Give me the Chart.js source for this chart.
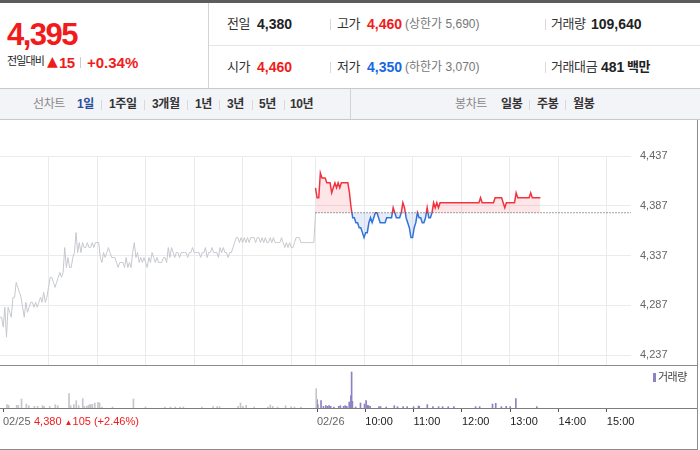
<!DOCTYPE html>
<html lang="ko">
<head>
<meta charset="UTF-8">
<title>주가 차트 - 1일</title>
<script src="https://cdn.jsdelivr.net/npm/chart.js"></script>
<style>
  body { margin:0; width:700px; height:450px; overflow:hidden; background:#fff; position:relative;
         font-family:'Liberation Sans', 'Noto Sans CJK KR', sans-serif; color:#333; }
  .t { position:absolute; white-space:nowrap; line-height:1; }
  .line { position:absolute; }
  .lbl { font-size:13px; color:#333; letter-spacing:-0.4px; }
  .num { font-size:14px; font-weight:bold; color:#222; }
  .sub { font-size:12px; color:#777; }
  .up { color:#f21b1b; }
  .down { color:#1867e6; }
  .tab { font-size:12px; font-weight:bold; color:#333; letter-spacing:-0.4px; }
  .tabOff { font-size:12px; color:#888; letter-spacing:-0.4px; }
  .sep { position:absolute; width:1px; background:#d9d9d9; }
  canvas { position:absolute; left:0; }
</style>
</head>
<body>

<!-- header -->
<div class="line" style="left:0;top:0;width:700px;height:3px;background:#5c5c5c"></div>
<div class="line" style="left:208px;top:3px;width:1px;height:85px;background:#d3d3d3"></div>
<div class="line" style="left:209px;top:45px;width:491px;height:1px;background:#e6e6e6"></div>
<div class="line" style="left:0;top:88px;width:700px;height:1px;background:#c8c8c8"></div>

<span class="t up" style="left:7px;top:19px;font-size:31px;font-weight:bold;letter-spacing:-1.5px">4,395</span>
<span class="t" style="left:7px;top:56px;font-size:11px;color:#222;letter-spacing:-0.9px">전일대비</span>
<span class="t up" style="left:47px;top:54px;font-size:14px;font-family:'DejaVu Sans'">▲</span>
<span class="t up" style="left:59px;top:55px;font-size:15px;font-weight:bold;letter-spacing:-0.5px">15</span>
<div class="sep" style="left:80px;top:57px;height:11px;background:#ccc"></div>
<span class="t up" style="left:87px;top:55px;font-size:15px;font-weight:bold">+0.34%</span>

<span class="t lbl" style="left:227px;top:17px">전일</span>
<span class="t num" style="left:257px;top:17px">4,380</span>
<div class="sep" style="left:330px;top:19px;height:11px"></div>
<span class="t lbl" style="left:337px;top:17px">고가</span>
<span class="t num up" style="left:367px;top:17px">4,460</span>
<span class="t sub" style="left:405px;top:18px">(상한가 5,690)</span>
<div class="sep" style="left:545px;top:19px;height:11px"></div>
<span class="t lbl" style="left:551px;top:17px">거래량</span>
<span class="t num" style="left:591px;top:17px">109,640</span>

<span class="t lbl" style="left:227px;top:60px">시가</span>
<span class="t num up" style="left:257px;top:60px">4,460</span>
<div class="sep" style="left:330px;top:62px;height:11px"></div>
<span class="t lbl" style="left:337px;top:60px">저가</span>
<span class="t num down" style="left:367px;top:60px">4,350</span>
<span class="t sub" style="left:405px;top:61px">(하한가 3,070)</span>
<div class="sep" style="left:545px;top:62px;height:11px"></div>
<span class="t lbl" style="left:551px;top:60px">거래대금</span>
<span class="t num" style="left:601px;top:60px">481</span>
<span class="t num" style="left:627px;top:60px;font-size:13px;letter-spacing:-0.5px">백만</span>

<!-- period tabs -->
<div class="line" style="left:0;top:89px;width:700px;height:30px;background:#f3f4f7"></div>
<div class="line" style="left:0;top:119px;width:700px;height:1px;background:#c8c8c8"></div>
<div class="line" style="left:350px;top:89px;width:1px;height:30px;background:#d3d3d3"></div>
<span class="t tabOff" style="left:33px;top:98px">선차트</span>
<span class="t tab" style="left:77px;top:98px;color:#2c4c9c">1일</span>
<div class="sep" style="left:101px;top:100px;height:10px"></div>
<span class="t tab" style="left:109px;top:98px">1주일</span>
<div class="sep" style="left:144px;top:100px;height:10px"></div>
<span class="t tab" style="left:152px;top:98px">3개월</span>
<div class="sep" style="left:187px;top:100px;height:10px"></div>
<span class="t tab" style="left:195px;top:98px">1년</span>
<div class="sep" style="left:219px;top:100px;height:10px"></div>
<span class="t tab" style="left:227px;top:98px">3년</span>
<div class="sep" style="left:252px;top:100px;height:10px"></div>
<span class="t tab" style="left:259px;top:98px">5년</span>
<div class="sep" style="left:284px;top:100px;height:10px"></div>
<span class="t tab" style="left:290px;top:98px">10년</span>
<span class="t tabOff" style="left:455px;top:98px">봉차트</span>
<span class="t tab" style="left:501px;top:98px">일봉</span>
<div class="sep" style="left:529px;top:100px;height:10px"></div>
<span class="t tab" style="left:537px;top:98px">주봉</span>
<div class="sep" style="left:565px;top:100px;height:10px"></div>
<span class="t tab" style="left:573px;top:98px">월봉</span>

<!-- charts -->
<canvas id="priceChart" width="697" height="245" style="top:120px"></canvas>
<canvas id="volChart" width="697" height="83" style="top:366px"></canvas>
<div class="line" style="left:0;top:365px;width:697px;height:1px;background:#8c8c8c"></div>
<div class="line" style="left:0;top:408px;width:697px;height:1px;background:#7d7d7d"></div>
<div class="line" style="left:0;top:449px;width:698px;height:1px;background:#8c8c8c"></div>
<div class="line" style="left:697px;top:120px;width:1px;height:330px;background:#8c8c8c"></div>

<div class="line" style="left:653px;top:373px;width:3px;height:9px;background:#9080c4"></div>
<span class="t" style="left:658px;top:372px;font-size:11px;color:#444;letter-spacing:-0.5px">거래량</span>
<span class="t up" style="left:34px;top:416px;font-size:11px">4,380 <span style="font-size:8px">▲</span>105 (+2.46%)</span>

<script>
    // x axis = minutes from 09:00 of the previous day; second session starts at 390
    const SESSION = 390;
    const STEP = 2;
    const prevClose = 4380;

    // 02/25, every 2 minutes from 09:00
    const prevDayPrices = [
        4275,4275,4265,4285,4255,4285,4280,4275,4295,4295,
        4310,4305,4300,4295,4285,4275,4290,4280,4285,4290,
        4290,4285,4290,4285,4290,4295,4290,4300,4290,4295,
        4305,4315,4315,4310,4305,4310,4315,4320,4315,4320,
        4345,4325,4335,4325,4325,4335,4340,4360,4340,4350,
        4340,4350,4345,4345,4350,4345,4345,4350,4345,4350,
        4350,4350,4335,4330,4340,4335,4340,4345,4340,4335,
        4335,4335,4330,4325,4330,4330,4330,4325,4335,4325,
        4330,4325,4340,4350,4335,4340,4330,4335,4330,4335,
        4330,4325,4335,4330,4340,4335,4330,4335,4330,
        4330,4330,4335,4335,4330,4345,4335,4345,4340,4335,
        4340,4340,4335,4340,4340,4340,4340,4335,4340,4340,
        4345,4340,4340,4340,4340,4335,4340,4340,4345,4335,
        4340,4340,4345,4340,4340,4340,4335,4345,4340,4345,
        4340,4340,4335,4340,4340,4345,4350,4355,4355,4350,
        4355,4350,4355,4350,4355,4350,4355,4355,4355,4350,
        4355,4355,4350,4355,4350,4355,4350,4350,4355,4350,
        4355,4350,4350,4350,4350,4355,4350,4345,4350,4345,
        4350,4345,4345,4350,4355,4355,4355,4350,4350,4350,
        4350,4350,4350,4350,4350,4350
    ];

    // 02/26, every 2 minutes from 09:00
    const todayPrices = [
        4405,4395,4395,4420,4415,4415,4415,4410,4410,4410,
        4400,4405,4410,4405,4410,4405,4410,4410,4410,4410,
        4410,4400,4385,4375,4375,4370,4370,4365,4365,4360,
        4355,4360,4360,4370,4375,4370,4375,4380,4380,4375,
        4370,4370,4370,4370,4375,4375,4375,4375,4385,4380,
        4375,4375,4375,4380,4390,4385,4375,4370,4365,4355,
        4355,4365,4370,4380,4375,4375,4370,4370,4375,4385,
        4375,4375,4380,4390,4385,4390,4385,4390,4390,4390,
        4390,4390,4390,4390,4390,4390,4390,4390,4390,4390,
        4390,4390,4390,4390,4390,4390,4390,4390,4390,4390,
        4390,4390,4395,4390,4390,4390,4390,4390,4390,4390,
        4390,4395,4395,4395,4395,4395,4390,4385,4390,4390,
        4390,4390,4390,4390,4400,4395,4395,4395,4395,4395,
        4395,4395,4395,4400,4395,4395,4395,4395,4395,4395
    ];

    const prevVolTimes = [5,7,17,19,23,29,32,39,43,49,51,58,65,68,82,84,88,91,94,99,
        101,104,106,108,109,111,114,118,120,123,136,162,177,201,208,214,220,224,247,261,
        266,269,292,295,298,302,312,329,332,335,341,351,358,362,370,389];
    const prevVolumes = [1000,800,800,800,2700,1200,700,500,500,700,500,500,1000,700,4300,700,1000,2200,700,2800,
        500,500,800,1000,1000,1100,1500,1700,1500,300,300,2700,300,300,300,300,300,300,300,400,
        400,400,500,1500,500,800,300,300,900,500,300,700,400,300,300,5800];

    const todayVolTimes = [0,1,5,8,11,13,15,17,21,27,29,33,35,37,40,42,43,44,48,54,
        59,61,63,64,66,77,79,86,96,100,107,112,120,126,127,137,144,151,156,163,
        170,197,202,218,222,229,235,240,247,273];
    const todayVolumes = [2500,1000,2200,500,700,500,700,500,300,500,700,500,700,500,1800,3700,10800,2000,300,1500,
        1200,2200,800,700,500,400,400,300,700,400,400,400,400,600,500,1000,400,400,400,400,
        400,400,400,1200,1400,400,500,400,2800,400];

    const priceTicks = [4237, 4287, 4337, 4387, 4437];
    const gridTimes = [60,120,180,240,300,360,390,450,510,570,630,690,750];
    const axisTimes = [0,390,450,510,570,630,690,750];
    const axisLabels = ['02/25','02/26','10:00','11:00','12:00','13:00','14:00','15:00'];

    const RED = '#f2323f';
    const BLUE = '#3173d8';

    Chart.defaults.font.family = "'Liberation Sans', Arial, sans-serif";
    Chart.defaults.font.size = 11;

    let prevPts = prevDayPrices.map((p, i) => ({x: i * STEP, y: p}));
    prevPts.push({x: SESSION, y: prevClose});
    let todayPts = todayPrices.map((p, i) => ({x: SESSION + i * STEP, y: p}));
    let basePts = [{x: SESSION, y: prevClose}, {x: 2 * SESSION, y: prevClose}];

    // red above yesterday's close, blue below
    function splitColor(context) {
        let chart = context.chart;
        let area = chart.chartArea;
        if (!area) return RED;
        let y = chart.scales.y.getPixelForValue(prevClose) + 0.5;
        let stop = Math.min(Math.max((y - area.top) / (area.bottom - area.top), 0), 1);
        let g = chart.ctx.createLinearGradient(0, area.top, 0, area.bottom);
        g.addColorStop(0, RED);
        g.addColorStop(stop, RED);
        g.addColorStop(stop, BLUE);
        g.addColorStop(1, BLUE);
        return g;
    }

    new Chart(document.getElementById('priceChart'), {
        type: 'line',
        data: {
            datasets: [
                { data: basePts, borderColor: '#444', borderWidth: 1, borderDash: [1, 2], pointRadius: 0, fill: false },
                { data: todayPts, borderColor: splitColor, borderWidth: 1.5, pointRadius: 0,
                  fill: { target: { value: prevClose }, above: 'rgba(245,40,60,0.12)', below: 'rgba(40,110,220,0.12)' } },
                { data: prevPts, borderColor: '#c5c8ce', borderWidth: 1, pointRadius: 0, fill: false }
            ]
        },
        options: {
            responsive: false,
            animation: false,
            layout: { padding: { top: 36, left: 0, right: 0, bottom: 0 } },
            plugins: { legend: { display: false }, tooltip: { enabled: false } },
            scales: {
                x: {
                    type: 'linear', min: 0, max: 2 * SESSION,
                    afterBuildTicks: s => { s.ticks = gridTimes.map(v => ({value: v})); },
                    ticks: { display: false },
                    grid: { color: '#ebebeb', drawTicks: false },
                    border: { display: false },
                    afterFit: s => { s.height = 0; }
                },
                y: {
                    position: 'right', min: 4227, max: 4437,
                    afterBuildTicks: s => { s.ticks = priceTicks.map(v => ({value: v})); },
                    ticks: { padding: 9, color: '#666', callback: v => v.toLocaleString('en-US') },
                    grid: { color: '#ebebeb', drawTicks: false },
                    border: { display: false },
                    // keep the plot running down to the volume panel
                    afterFit: s => { s.width = 66; s.paddingTop = 0; s.paddingBottom = 0; }
                }
            }
        }
    });

    new Chart(document.getElementById('volChart'), {
        type: 'bar',
        data: {
            datasets: [
                { data: prevVolTimes.map((t, i) => ({x: t, y: prevVolumes[i]})), backgroundColor: '#c4c6cc', barThickness: 1, grouped: false },
                { data: todayVolTimes.map((t, i) => ({x: SESSION + t, y: todayVolumes[i]})), backgroundColor: '#9080c4', barThickness: 1, grouped: false }
            ]
        },
        options: {
            responsive: false,
            animation: false,
            layout: { padding: { top: 2, right: 66, left: 0, bottom: 0 } },
            plugins: { legend: { display: false }, tooltip: { enabled: false } },
            scales: {
                x: {
                    type: 'linear', min: 0, max: 2 * SESSION, offset: false,
                    afterBuildTicks: s => { s.ticks = axisTimes.map(v => ({value: v})); },
                    ticks: {
                        autoSkip: false, maxRotation: 0, align: 'start', padding: 3,
                        color: c => c.index < 2 ? '#666' : '#222',
                        callback: (v, i) => axisLabels[i]
                    },
                    grid: { offset: false, drawOnChartArea: false, drawTicks: true, tickLength: 4, color: '#555' },
                    border: { display: false },
                    afterFit: s => { s.height = 41; }
                },
                y: { display: false, min: 0, max: 12000 }
            }
        }
    });
</script>
</body>
</html>
